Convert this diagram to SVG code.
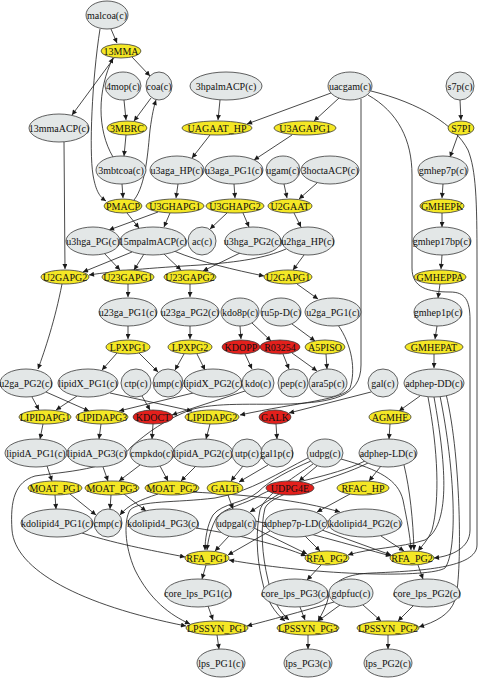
<svg xmlns="http://www.w3.org/2000/svg" width="480" height="679" viewBox="0 0 480 679">
<style>
.m{fill:#e3e7e7;stroke:#3a3a3a;stroke-width:0.8}
.r{fill:#f4e725;stroke:#3a3a3a;stroke-width:0.8}
.x{fill:#e3201c;stroke:#3a3a3a;stroke-width:0.8}
text{font-family:"Liberation Serif","Times New Roman",serif;font-size:10px;text-anchor:middle;fill:#111}
#edges path{fill:none;stroke:#1a1a1a;stroke-width:0.8;marker-end:url(#ah)}
</style>
<defs>
<marker id="ah" viewBox="0 0 10 10" refX="10" refY="5" markerUnits="userSpaceOnUse" markerWidth="6" markerHeight="5" orient="auto"><path d="M0,0 L10,5 L0,10 z" fill="#1a1a1a"/></marker>
</defs>
<rect width="480" height="679" fill="#fff"/>
<g id="edges">
<path d="M111,29 L117,43"/>
<path d="M100,29 C92,80 89,150 93,175 C96,192 100,197 106,201"/>
<path d="M132,57 L150,76"/>
<path d="M114,58 L72,115"/>
<path d="M113,157 C97,130 97,90 113,58"/>
<path d="M124,100 L126,120"/>
<path d="M151,98 L134,121"/>
<path d="M126,135 L124,156"/>
<path d="M134,200 C146,185 148,150 150,130 C152,115 154,106 156,100"/>
<path d="M122,184 L123,198"/>
<path d="M64,142 L65,269"/>
<path d="M220,100 L218,120"/>
<path d="M331,93 L247,124"/>
<path d="M339,98 L314,121"/>
<path d="M210,135 L192,158"/>
<path d="M292,135 L254,160"/>
<path d="M361,99 L361,365 C361,398 330,402 290,404 C255,405 215,402 190,410 C165,420 148,432 131,447 C115,470 60,472 35,476 C15,482 10,500 12,530 C15,570 80,605 186,626"/>
<path d="M368,95 C398,112 412,140 412,175 L412,268 C412,288 428,292 450,292 C465,292 470,300 470,320 L470,530 C470,548 452,556 434,558"/>
<path d="M371,91 C420,103 455,125 468,150 C476,170 477,200 477,260 L477,545 C477,568 420,571 372,573 C348,574 333,580 329,595 C327,605 322,614 318,621"/>
<path d="M178,184 L176,198"/>
<path d="M158,212 L109,230"/>
<path d="M170,213 L164,227"/>
<path d="M127,213 L139,228"/>
<path d="M234,184 L235,198"/>
<path d="M227,213 L210,229"/>
<path d="M243,213 L249,227"/>
<path d="M284,184 L287,198"/>
<path d="M317,183 L299,199"/>
<path d="M294,213 L301,227"/>
<path d="M104,253 L120,270"/>
<path d="M144,254 L134,270"/>
<path d="M164,254 L181,270"/>
<path d="M240,253 L203,271"/>
<path d="M132,252 L83,272"/>
<path d="M174,251 C200,262 235,270 264,276"/>
<path d="M286,249 C265,258 240,262 200,265 C150,268 115,271 89,275"/>
<path d="M304,255 L293,270"/>
<path d="M460,100 L461,120"/>
<path d="M458,135 L450,157"/>
<path d="M443,184 L442,198"/>
<path d="M442,213 L442,227"/>
<path d="M442,255 L441,269"/>
<path d="M440,284 L438,298"/>
<path d="M437,326 L435,339"/>
<path d="M434,354 L434,368"/>
<path d="M128,284 L128,297"/>
<path d="M190,284 L190,297"/>
<path d="M297,284 L318,299"/>
<path d="M62,284 C55,320 45,350 38,369"/>
<path d="M128,326 L128,339"/>
<path d="M190,326 L190,339"/>
<path d="M117,353 L102,370"/>
<path d="M139,353 L158,372"/>
<path d="M184,354 L175,370"/>
<path d="M197,354 L205,370"/>
<path d="M240,326 L241,339"/>
<path d="M252,323 L271,341"/>
<path d="M292,324 L315,341"/>
<path d="M245,354 L252,369"/>
<path d="M283,354 L289,369"/>
<path d="M292,353 L317,371"/>
<path d="M326,354 L327,369"/>
<path d="M338,325 C352,345 356,370 350,388 C343,400 300,402 240,415"/>
<path d="M32,397 L39,410"/>
<path d="M77,396 L56,410"/>
<path d="M46,392 L89,411"/>
<path d="M193,393 L119,411"/>
<path d="M110,393 L192,411"/>
<path d="M142,396 L150,410"/>
<path d="M245,391 L172,415"/>
<path d="M371,392 L289,413"/>
<path d="M153,424 L152,439"/>
<path d="M43,424 L40,439"/>
<path d="M101,424 L99,439"/>
<path d="M210,424 L206,439"/>
<path d="M276,424 L277,439"/>
<path d="M420,396 L399,411"/>
<path d="M390,424 L389,439"/>
<path d="M47,466 L52,481"/>
<path d="M103,467 L108,481"/>
<path d="M140,465 L119,481"/>
<path d="M160,466 L168,481"/>
<path d="M196,466 L181,481"/>
<path d="M243,466 L231,481"/>
<path d="M268,465 L239,482"/>
<path d="M317,466 L299,481"/>
<path d="M381,466 L369,481"/>
<path d="M55,495 L56,509"/>
<path d="M70,494 L96,515"/>
<path d="M111,495 L110,509"/>
<path d="M124,494 L146,511"/>
<path d="M158,494 C140,500 128,505 120,515"/>
<path d="M192,492 C250,495 300,500 340,512"/>
<path d="M228,495 L233,509"/>
<path d="M279,494 L250,512"/>
<path d="M350,494 L317,512"/>
<path d="M82,533 C120,545 160,552 185,557"/>
<path d="M229,536 L215,551"/>
<path d="M270,531 L228,555"/>
<path d="M305,536 L320,551"/>
<path d="M322,530 L391,555"/>
<path d="M196,528 C240,535 280,545 306,556"/>
<path d="M381,536 L404,551"/>
<path d="M254,528 L307,554"/>
<path d="M255,521 C300,530 350,545 391,556"/>
<path d="M311,461 C290,470 270,480 258,492 C245,503 222,503 213,515 C207,525 205,540 205,550"/>
<path d="M365,461 C330,478 285,482 262,494 C245,505 225,507 217,517 C211,527 208,540 207,550"/>
<path d="M308,458 C280,472 250,492 215,498 C175,503 140,500 130,510 C124,520 124,545 135,570 C150,600 170,615 190,624"/>
<path d="M313,464 C290,480 265,495 260,510 C256,530 256,555 262,580 C266,600 275,613 285,621"/>
<path d="M368,463 C335,480 272,492 265,508 C260,528 262,555 268,580 C272,600 280,612 289,620"/>
<path d="M341,459 C380,470 398,480 403,500 C407,520 410,535 411,550"/>
<path d="M404,465 C410,490 413,520 414,550"/>
<path d="M428,397 C438,450 440,500 432,530 C428,540 422,546 418,551"/>
<path d="M434,397 C447,470 450,525 425,540 C400,548 370,548 348,555"/>
<path d="M440,396 C455,470 458,550 445,568 C430,578 320,576 229,560"/>
<path d="M446,394 C462,460 462,580 455,600 C450,615 435,622 419,627"/>
<path d="M206,565 L202,579"/>
<path d="M321,565 L307,580"/>
<path d="M418,565 L423,579"/>
<path d="M208,606 L213,620"/>
<path d="M300,607 L305,620"/>
<path d="M414,605 L398,621"/>
<path d="M334,602 C300,612 270,620 247,626"/>
<path d="M340,605 L318,621"/>
<path d="M363,605 L381,621"/>
<path d="M217,635 L219,649"/>
<path d="M308,635 L308,649"/>
<path d="M388,635 L388,649"/>
</g>
<g id="n-malcoa"><ellipse class="m" cx="107" cy="15" rx="21" ry="14"/><text x="107" y="18.5">malcoa(c)</text></g>
<g id="n-4mop"><ellipse class="m" cx="123" cy="86" rx="18" ry="14"/><text x="123" y="89.5">4mop(c)</text></g>
<g id="n-coa"><ellipse class="m" cx="159" cy="86" rx="13" ry="14"/><text x="159" y="89.5">coa(c)</text></g>
<g id="n-3hpalmACP"><ellipse class="m" cx="226" cy="86" rx="36" ry="14"/><text x="226" y="89.5">3hpalmACP(c)</text></g>
<g id="n-uacgam"><ellipse class="m" cx="350" cy="86" rx="22" ry="14"/><text x="350" y="89.5">uacgam(c)</text></g>
<g id="n-s7p"><ellipse class="m" cx="460" cy="86" rx="14" ry="14"/><text x="460" y="89.5">s7p(c)</text></g>
<g id="n-13mmaACP"><ellipse class="m" cx="59" cy="128" rx="30" ry="14"/><text x="59" y="131.5">13mmaACP(c)</text></g>
<g id="n-3mbtcoa"><ellipse class="m" cx="121" cy="170" rx="25" ry="14"/><text x="121" y="173.5">3mbtcoa(c)</text></g>
<g id="n-u3aga_HP"><ellipse class="m" cx="177" cy="170" rx="27" ry="14"/><text x="177" y="173.5">u3aga_HP(c)</text></g>
<g id="n-u3aga_PG1"><ellipse class="m" cx="234" cy="170" rx="29" ry="14"/><text x="234" y="173.5">u3aga_PG1(c)</text></g>
<g id="n-ugam"><ellipse class="m" cx="283" cy="170" rx="17" ry="14"/><text x="283" y="173.5">ugam(c)</text></g>
<g id="n-3hoctaACP"><ellipse class="m" cx="330" cy="170" rx="29" ry="14"/><text x="330" y="173.5">3hoctaACP(c)</text></g>
<g id="n-gmhep7p"><ellipse class="m" cx="443" cy="170" rx="25" ry="14"/><text x="443" y="173.5">gmhep7p(c)</text></g>
<g id="n-u3hga_PG"><ellipse class="m" cx="93" cy="241" rx="27" ry="14"/><text x="93" y="244.5">u3hga_PG(c)</text></g>
<g id="n-15mpalmACP"><ellipse class="m" cx="153" cy="241" rx="33" ry="14"/><text x="153" y="244.5">15mpalmACP(c)</text></g>
<g id="n-ac"><ellipse class="m" cx="202" cy="241" rx="14" ry="14"/><text x="202" y="244.5">ac(c)</text></g>
<g id="n-u3hga_PG2"><ellipse class="m" cx="253" cy="241" rx="28" ry="14"/><text x="253" y="244.5">u3hga_PG2(c)</text></g>
<g id="n-u2hga_HP"><ellipse class="m" cx="308" cy="241" rx="26" ry="14"/><text x="308" y="244.5">u2hga_HP(c)</text></g>
<g id="n-gmhep17bp"><ellipse class="m" cx="442" cy="241" rx="29" ry="14"/><text x="442" y="244.5">gmhep17bp(c)</text></g>
<g id="n-u23ga_PG1"><ellipse class="m" cx="128" cy="312" rx="29" ry="14"/><text x="128" y="315.5">u23ga_PG1(c)</text></g>
<g id="n-u23ga_PG2"><ellipse class="m" cx="190" cy="312" rx="29" ry="14"/><text x="190" y="315.5">u23ga_PG2(c)</text></g>
<g id="n-kdo8p"><ellipse class="m" cx="240" cy="312" rx="19" ry="14"/><text x="240" y="315.5">kdo8p(c)</text></g>
<g id="n-ru5p-D"><ellipse class="m" cx="281" cy="312" rx="20" ry="14"/><text x="281" y="315.5">ru5p-D(c)</text></g>
<g id="n-u2ga_PG1"><ellipse class="m" cx="333" cy="312" rx="28" ry="14"/><text x="333" y="315.5">u2ga_PG1(c)</text></g>
<g id="n-gmhep1p"><ellipse class="m" cx="438" cy="312" rx="24" ry="14"/><text x="438" y="315.5">gmhep1p(c)</text></g>
<g id="n-u2ga_PG2"><ellipse class="m" cx="26" cy="383" rx="26" ry="14"/><text x="26" y="386.5">u2ga_PG2(c)</text></g>
<g id="n-lipidX_PG1"><ellipse class="m" cx="88" cy="383" rx="30" ry="14"/><text x="88" y="386.5">lipidX_PG1(c)</text></g>
<g id="n-ctp"><ellipse class="m" cx="136" cy="383" rx="15" ry="14"/><text x="136" y="386.5">ctp(c)</text></g>
<g id="n-ump"><ellipse class="m" cx="168" cy="383" rx="15" ry="14"/><text x="168" y="386.5">ump(c)</text></g>
<g id="n-lipidX_PG2"><ellipse class="m" cx="213" cy="383" rx="29" ry="14"/><text x="213" y="386.5">lipidX_PG2(c)</text></g>
<g id="n-kdo"><ellipse class="m" cx="258" cy="383" rx="16" ry="14"/><text x="258" y="386.5">kdo(c)</text></g>
<g id="n-pep"><ellipse class="m" cx="293" cy="383" rx="15" ry="14"/><text x="293" y="386.5">pep(c)</text></g>
<g id="n-ara5p"><ellipse class="m" cx="328" cy="383" rx="19" ry="14"/><text x="328" y="386.5">ara5p(c)</text></g>
<g id="n-gal"><ellipse class="m" cx="383" cy="383" rx="15" ry="14"/><text x="383" y="386.5">gal(c)</text></g>
<g id="n-adphep-DD"><ellipse class="m" cx="434" cy="383" rx="30" ry="14"/><text x="434" y="386.5">adphep-DD(c)</text></g>
<g id="n-lipidA_PG1"><ellipse class="m" cx="36" cy="453" rx="31" ry="14"/><text x="36" y="456.5">lipidA_PG1(c)</text></g>
<g id="n-lipidA_PG3"><ellipse class="m" cx="97" cy="453" rx="30" ry="14"/><text x="97" y="456.5">lipidA_PG3(c)</text></g>
<g id="n-cmpkdo"><ellipse class="m" cx="152" cy="453" rx="22" ry="14"/><text x="152" y="456.5">cmpkdo(c)</text></g>
<g id="n-lipidA_PG2"><ellipse class="m" cx="203" cy="453" rx="30" ry="14"/><text x="203" y="456.5">lipidA_PG2(c)</text></g>
<g id="n-utp"><ellipse class="m" cx="247" cy="453" rx="15" ry="14"/><text x="247" y="456.5">utp(c)</text></g>
<g id="n-gal1p"><ellipse class="m" cx="277" cy="453" rx="16" ry="14"/><text x="277" y="456.5">gal1p(c)</text></g>
<g id="n-udpg"><ellipse class="m" cx="325" cy="453" rx="18" ry="14"/><text x="325" y="456.5">udpg(c)</text></g>
<g id="n-adphep-LD"><ellipse class="m" cx="388" cy="453" rx="29" ry="14"/><text x="388" y="456.5">adphep-LD(c)</text></g>
<g id="n-kdolipid4_PG1"><ellipse class="m" cx="57" cy="523" rx="36" ry="14"/><text x="57" y="526.5">kdolipid4_PG1(c)</text></g>
<g id="n-cmp"><ellipse class="m" cx="108" cy="523" rx="14" ry="14"/><text x="108" y="526.5">cmp(c)</text></g>
<g id="n-kdolipid4_PG3"><ellipse class="m" cx="163" cy="523" rx="35" ry="14"/><text x="163" y="526.5">kdolipid4_PG3(c)</text></g>
<g id="n-udpgal"><ellipse class="m" cx="236" cy="523" rx="20" ry="14"/><text x="236" y="526.5">udpgal(c)</text></g>
<g id="n-adphep7p-LD"><ellipse class="m" cx="296" cy="523" rx="31" ry="14"/><text x="296" y="526.5">adphep7p-LD(c)</text></g>
<g id="n-kdolipid4_PG2"><ellipse class="m" cx="365" cy="523" rx="37" ry="14"/><text x="365" y="526.5">kdolipid4_PG2(c)</text></g>
<g id="n-core_lps_PG1"><ellipse class="m" cx="198" cy="593" rx="33" ry="14"/><text x="198" y="596.5">core_lps_PG1(c)</text></g>
<g id="n-core_lps_PG3"><ellipse class="m" cx="295" cy="593" rx="33" ry="14"/><text x="295" y="596.5">core_lps_PG3(c)</text></g>
<g id="n-gdpfuc"><ellipse class="m" cx="351" cy="593" rx="22" ry="14"/><text x="351" y="596.5">gdpfuc(c)</text></g>
<g id="n-core_lps_PG2"><ellipse class="m" cx="427" cy="593" rx="33" ry="14"/><text x="427" y="596.5">core_lps_PG2(c)</text></g>
<g id="n-lps_PG1"><ellipse class="m" cx="221" cy="663" rx="24" ry="14"/><text x="221" y="666.5">lps_PG1(c)</text></g>
<g id="n-lps_PG3"><ellipse class="m" cx="308" cy="663" rx="24" ry="14"/><text x="308" y="666.5">lps_PG3(c)</text></g>
<g id="n-lps_PG2"><ellipse class="m" cx="388" cy="663" rx="24" ry="14"/><text x="388" y="666.5">lps_PG2(c)</text></g>
<g id="n-13MMA"><ellipse class="r" cx="121" cy="51" rx="20" ry="7"/><text x="121" y="54.5">13MMA</text></g>
<g id="n-3MBRC"><ellipse class="r" cx="127" cy="128" rx="20" ry="7"/><text x="127" y="131.5">3MBRC</text></g>
<g id="n-UAGAAT_HP"><ellipse class="r" cx="217" cy="128" rx="35" ry="7"/><text x="217" y="131.5">UAGAAT_HP</text></g>
<g id="n-U3AGAPG1"><ellipse class="r" cx="305" cy="128" rx="31" ry="7"/><text x="305" y="131.5">U3AGAPG1</text></g>
<g id="n-S7PI"><ellipse class="r" cx="461" cy="128" rx="13" ry="7"/><text x="461" y="131.5">S7PI</text></g>
<g id="n-PMACP"><ellipse class="r" cx="123" cy="206" rx="19" ry="7"/><text x="123" y="209.5">PMACP</text></g>
<g id="n-U3GHAPG1"><ellipse class="r" cx="175" cy="206" rx="29" ry="7"/><text x="175" y="209.5">U3GHAPG1</text></g>
<g id="n-U3GHAPG2"><ellipse class="r" cx="235" cy="206" rx="29" ry="7"/><text x="235" y="209.5">U3GHAPG2</text></g>
<g id="n-U2GAAT"><ellipse class="r" cx="290" cy="206" rx="22" ry="7"/><text x="290" y="209.5">U2GAAT</text></g>
<g id="n-GMHEPK"><ellipse class="r" cx="442" cy="206" rx="22" ry="7"/><text x="442" y="209.5">GMHEPK</text></g>
<g id="n-U2GAPG2"><ellipse class="r" cx="65" cy="277" rx="24" ry="7"/><text x="65" y="280.5">U2GAPG2</text></g>
<g id="n-U23GAPG1"><ellipse class="r" cx="128" cy="277" rx="26" ry="7"/><text x="128" y="280.5">U23GAPG1</text></g>
<g id="n-U23GAPG2"><ellipse class="r" cx="190" cy="277" rx="26" ry="7"/><text x="190" y="280.5">U23GAPG2</text></g>
<g id="n-U2GAPG1"><ellipse class="r" cx="288" cy="277" rx="24" ry="7"/><text x="288" y="280.5">U2GAPG1</text></g>
<g id="n-GMHEPPA"><ellipse class="r" cx="440" cy="277" rx="26" ry="7"/><text x="440" y="280.5">GMHEPPA</text></g>
<g id="n-LPXPG1"><ellipse class="r" cx="128" cy="347" rx="22" ry="7"/><text x="128" y="350.5">LPXPG1</text></g>
<g id="n-LPXPG2"><ellipse class="r" cx="190" cy="347" rx="22" ry="7"/><text x="190" y="350.5">LPXPG2</text></g>
<g id="n-KDOPP"><ellipse class="x" cx="241" cy="347" rx="19" ry="7"/><text x="241" y="350.5">KDOPP</text></g>
<g id="n-R03254"><ellipse class="x" cx="280" cy="347" rx="20" ry="7"/><text x="280" y="350.5">R03254</text></g>
<g id="n-A5PISO"><ellipse class="r" cx="325" cy="347" rx="20" ry="7"/><text x="325" y="350.5">A5PISO</text></g>
<g id="n-GMHEPAT"><ellipse class="r" cx="434" cy="347" rx="29" ry="7"/><text x="434" y="350.5">GMHEPAT</text></g>
<g id="n-LIPIDAPG1"><ellipse class="r" cx="45" cy="417" rx="26" ry="7"/><text x="45" y="420.5">LIPIDAPG1</text></g>
<g id="n-LIPIDAPG3"><ellipse class="r" cx="102" cy="417" rx="26" ry="7"/><text x="102" y="420.5">LIPIDAPG3</text></g>
<g id="n-KDOCT"><ellipse class="x" cx="153" cy="417" rx="20" ry="7"/><text x="153" y="420.5">KDOCT</text></g>
<g id="n-LIPIDAPG2"><ellipse class="r" cx="212" cy="417" rx="27" ry="7"/><text x="212" y="420.5">LIPIDAPG2</text></g>
<g id="n-GALK"><ellipse class="x" cx="275" cy="417" rx="16" ry="7"/><text x="275" y="420.5">GALK</text></g>
<g id="n-AGMHE"><ellipse class="r" cx="390" cy="417" rx="21" ry="7"/><text x="390" y="420.5">AGMHE</text></g>
<g id="n-MOAT_PG1"><ellipse class="r" cx="55" cy="488" rx="27" ry="7"/><text x="55" y="491.5">MOAT_PG1</text></g>
<g id="n-MOAT_PG3"><ellipse class="r" cx="112" cy="488" rx="27" ry="7"/><text x="112" y="491.5">MOAT_PG3</text></g>
<g id="n-MOAT_PG2"><ellipse class="r" cx="172" cy="488" rx="27" ry="7"/><text x="172" y="491.5">MOAT_PG2</text></g>
<g id="n-GALTi"><ellipse class="r" cx="225" cy="488" rx="18" ry="7"/><text x="225" y="491.5">GALTi</text></g>
<g id="n-UDPG4E"><ellipse class="x" cx="290" cy="488" rx="24" ry="7"/><text x="290" y="491.5">UDPG4E</text></g>
<g id="n-RFAC_HP"><ellipse class="r" cx="363" cy="488" rx="26" ry="7"/><text x="363" y="491.5">RFAC_HP</text></g>
<g id="n-RFA_PG1"><ellipse class="r" cx="207" cy="558" rx="22" ry="7"/><text x="207" y="561.5">RFA_PG1</text></g>
<g id="n-RFA_PG2a"><ellipse class="r" cx="327" cy="558" rx="22" ry="7"/><text x="327" y="561.5">RFA_PG2</text></g>
<g id="n-RFA_PG2b"><ellipse class="r" cx="412" cy="558" rx="22" ry="7"/><text x="412" y="561.5">RFA_PG2</text></g>
<g id="n-LPSSYN_PG1"><ellipse class="r" cx="217" cy="628" rx="31" ry="7"/><text x="217" y="631.5">LPSSYN_PG1</text></g>
<g id="n-LPSSYN_PG3"><ellipse class="r" cx="308" cy="628" rx="31" ry="7"/><text x="308" y="631.5">LPSSYN_PG3</text></g>
<g id="n-LPSSYN_PG2"><ellipse class="r" cx="388" cy="628" rx="31" ry="7"/><text x="388" y="631.5">LPSSYN_PG2</text></g>
</svg>
